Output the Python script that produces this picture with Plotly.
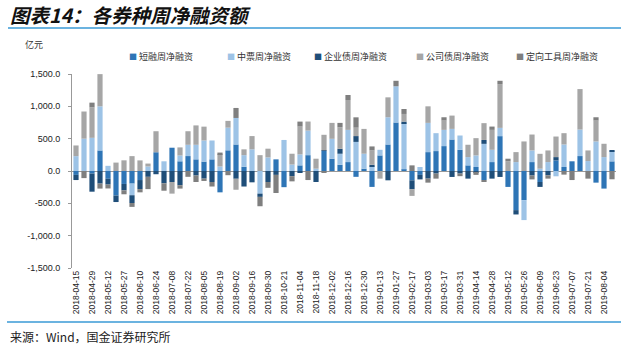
import plotly.graph_objects as go

# Weekly net financing by bond type (unit: 100 million yuan)
weeks = [
    "2018-04-15", "2018-04-22", "2018-04-29", "2018-05-06", "2018-05-12", "2018-05-20",
    "2018-05-27", "2018-06-03", "2018-06-10", "2018-06-17", "2018-06-24", "2018-07-01",
    "2018-07-08", "2018-07-15", "2018-07-22", "2018-07-29", "2018-08-05", "2018-08-12",
    "2018-08-19", "2018-08-26", "2018-09-02", "2018-09-09", "2018-09-16", "2018-09-23",
    "2018-09-30", "2018-10-14", "2018-10-21", "2018-10-28", "2018-11-04", "2018-11-11",
    "2018-11-18", "2018-11-25", "2018-12-02", "2018-12-09", "2018-12-16", "2018-12-23",
    "2018-12-30", "2019-01-06", "2019-01-13", "2019-01-20", "2019-01-27", "2019-02-03",
    "2019-02-17", "2019-02-24", "2019-03-03", "2019-03-10", "2019-03-17", "2019-03-24",
    "2019-03-31", "2019-04-07", "2019-04-14", "2019-04-21", "2019-04-28", "2019-05-05",
    "2019-05-12", "2019-05-19", "2019-05-26", "2019-06-02", "2019-06-09", "2019-06-16",
    "2019-06-23", "2019-06-30", "2019-07-07", "2019-07-14", "2019-07-21", "2019-07-28",
    "2019-08-04", "2019-08-11",
]

short_term = [
    -60, 0, -40, 318, -120, -380, -200, -195, -140, 0, 290, 0,
    360, 150, 231, 180, 145, 180, -330, 320, 410, 65, 0, 0,
    0, 180, -250, 0, 87, 245, 0, 310, 190, 97, 138, -90,
    36, -246, 241, 410, 750, 26, -144, -60, 292, 308, 385, 487,
    328, 87, 62, -140, 138, 539, -246, -605, -451, 138, -170, 0,
    164, 62, 150, 231, 0, -180, -272, 149,
]
mtn = [
    230, 500, 513, 682, 80, 0, 0, -180, 0, 70, 0, 150,
    0, 90, 174, 225, 327, 292, 70, 350, 410, 180, 335, -350,
    210, 0, 480, 100, 170, 380, 36, 0, 308, 170, 498, 450,
    231, 72, 87, 421, 560, 713, 0, 62, 452, 277, 251, 164,
    221, 128, 179, 420, 190, 128, 0, 138, -308, 180, 36, 138,
    -82, 348, 0, 410, 154, 457, 215, 154,
]
enterprise = [
    -80, 0, -280, -195, -90, -100, -100, -120, -140, -90, -50, -190,
    -170, -220, 0, -70, -118, -170, 0, 0, -120, -240, -175, -50,
    -170, -60, 0, -80, -30, 0, -170, 10, 0, 77, 0, 90,
    0, 25, 0, -144, 0, 25, -138, -70, -118, -40, 0, -92,
    -40, -118, -30, 60, -118, -92, 0, -67, 0, -70, -76, -67,
    51, 0, 0, 0, 0, 0, 0, 15,
]
corporate = [
    165, 420, 472, 498, 0, 130, 165, 230, 164, 45, 325, 0,
    -180, 125, 210, 300, 214, 0, 190, 105, -170, 90, 205, 245,
    135, 0, 0, 167, 430, 140, 154, 240, 246, 333, 462, 130,
    384, 221, -118, 308, 0, 118, -103, 0, 256, 0, 144, 206,
    0, 191, 267, 260, 308, 677, 150, 154, 457, 246, 230, 180,
    318, 175, 0, 626, 164, 323, 206, 0,
]
directional = [
    0, -110, 72, -77, -60, 0, -60, -60, -50, -190, 0, -115,
    0, -52, -90, -100, -36, -70, 25, -65, 155, 0, 0, -145,
    -90, -280, 0, -80, 77, -140, 0, -20, 0, 67, 77, 160,
    0, 62, 0, 0, 85, 77, 87, 0, -62, -78, 51, 0,
    -40, 0, -30, -20, 51, 51, 40, 0, 0, -60, 0, -51,
    0, -56, -140, 0, -118, 51, 0, -128,
]

series_values = [short_term, mtn, enterprise, corporate, directional]
series_names = ["短融周净融资", "中票周净融资", "企业债周净融资", "公司债周净融资", "定向工具周净融资"]
series_colors = ["#2E75B6", "#9DC3E6", "#1F4E79", "#A6A6A6", "#7F7F7F"]

y_ticks = [-1500, -1000, -500, 0, 500, 1000, 1500]
y_tick_labels = ["-1,500.0", "-1,000.0", "-500.0", "0.0", "500.0", "1,000.0", "1,500.0"]

title_text = "图表14：各券种周净融资额"
unit_text = "亿元"
source_text = "来源：Wind，国金证券研究所"

# Canvas and plot-area geometry (pixels)
W, H = 623, 346
L, R, T, B = 72, 7, 74, 78
PW, PH = W - L - R, H - T - B


def px(x):
    return (x - L) / PW


def py(y):
    return (H - B - y) / PH


CJK = "Noto Sans CJK SC"
LATIN = "Liberation Sans"
ACCENT = "#3A9AD6"

fig = go.Figure()
for name, vals, color in zip(series_names, series_values, series_colors):
    fig.add_trace(go.Bar(
        x=weeks, y=vals, name=name,
        marker=dict(color=color, line=dict(width=0)),
        showlegend=False,
    ))

annotations = [
    dict(text=f"<b><i>{title_text}</i></b>", x=px(8), y=py(15), xref="paper", yref="paper",
         xanchor="left", yanchor="middle", showarrow=False,
         font=dict(family=CJK, size=19.5, color="#111111")),
    dict(text=unit_text, x=px(23), y=py(44), xref="paper", yref="paper",
         xanchor="left", yanchor="middle", showarrow=False,
         font=dict(family=CJK, size=9, color="#333333")),
    dict(text=source_text, x=px(8), y=py(336), xref="paper", yref="paper",
         xanchor="left", yanchor="middle", showarrow=False,
         font=dict(family=CJK, size=12, color="#222222")),
]

# Legend row drawn as colored squares followed by series names
legend_x = [127, 225, 312, 414, 514]
for lx, name, color in zip(legend_x, series_names, series_colors):
    annotations.append(dict(
        text=f"<span style='color:{color};font-size:8px'>■</span> {name}",
        x=px(lx), y=py(56), xref="paper", yref="paper",
        xanchor="left", yanchor="middle", showarrow=False,
        font=dict(family=CJK, size=9, color="#333333"),
    ))

shapes = [
    dict(type="line", xref="paper", yref="paper", x0=px(8), x1=px(621), y0=py(28), y1=py(28),
         line=dict(color=ACCENT, width=1.5)),
    dict(type="line", xref="paper", yref="paper", x0=px(7), x1=px(621), y0=py(322), y1=py(322),
         line=dict(color=ACCENT, width=1.5)),
]

fig.update_layout(
    width=W, height=H,
    margin=dict(l=L, r=R, t=T, b=B, pad=0),
    paper_bgcolor="white", plot_bgcolor="white",
    barmode="relative", bargap=0.35,
    annotations=annotations, shapes=shapes,
    showlegend=False,
)
fig.update_xaxes(
    type="category", range=[-0.5, len(weeks) - 0.5],
    tickmode="array", tickvals=weeks[::2], ticktext=weeks[::2],
    tickangle=-90, tickfont=dict(family=LATIN, size=8.5, color="#222222"),
    showgrid=False, showline=False, ticks="", zeroline=False,
)
fig.update_yaxes(
    range=[-1500, 1500], tickmode="array", tickvals=y_ticks, ticktext=y_tick_labels,
    tickfont=dict(family=LATIN, size=9, color="#222222"),
    showgrid=False, showline=True, linecolor="#999999", linewidth=1,
    ticks="outside", ticklen=3, tickcolor="#999999", ticklabelstandoff=6,
    zeroline=True, zerolinecolor="#999999", zerolinewidth=1,
)

fig.write_html("out.html")
